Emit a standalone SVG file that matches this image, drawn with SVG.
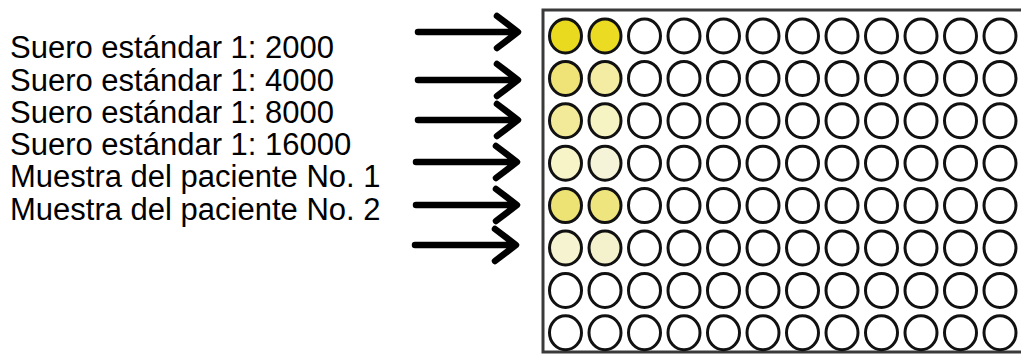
<svg xmlns="http://www.w3.org/2000/svg" width="1021" height="355" viewBox="0 0 1021 355">
<style>
.lbl{font-family:"Liberation Sans",Arial,sans-serif;font-size:31px;fill:#000}
.arr{fill:none;stroke:#000;stroke-width:6.5;stroke-linecap:round;stroke-linejoin:round}
.well{stroke:#111;stroke-width:3;fill:#fff}
.plate{fill:#fff;stroke:#3a3a3a;stroke-width:3}
</style>
<defs>
<ellipse id="w" rx="16" ry="17"/>
</defs>
<rect width="1021" height="355" fill="#fff"/>
<g id="labels">
<g id="label-1"><text class="lbl" x="10" y="58">Suero estándar 1: 2000</text></g>
<g id="label-2"><text class="lbl" x="10" y="90.5">Suero estándar 1: 4000</text></g>
<g id="label-3"><text class="lbl" x="10" y="123">Suero estándar 1: 8000</text></g>
<g id="label-4"><text class="lbl" x="10" y="155">Suero estándar 1: 16000</text></g>
<g id="label-5"><text class="lbl" x="10" y="187">Muestra del paciente No. 1</text></g>
<g id="label-6"><text class="lbl" x="10" y="219.5">Muestra del paciente No. 2</text></g>
</g>
<g id="plate">
<rect class="plate" x="543" y="10" width="490" height="342"/>
<g id="wells" class="well">
<g id="row-1"><use href="#w" x="565.5" y="36" fill="#e9d91f"/><use href="#w" x="605" y="36" fill="#ebdb22"/><use href="#w" x="644.5" y="36"/><use href="#w" x="684" y="36"/><use href="#w" x="723.5" y="36"/><use href="#w" x="763" y="36"/><use href="#w" x="802.5" y="36"/><use href="#w" x="842" y="36"/><use href="#w" x="881.5" y="36"/><use href="#w" x="921" y="36"/><use href="#w" x="960.5" y="36"/><use href="#w" x="1000" y="36"/></g>
<g id="row-2"><use href="#w" x="565.5" y="78.4" fill="#efe377"/><use href="#w" x="605" y="78.4" fill="#f3eca2"/><use href="#w" x="644.5" y="78.4"/><use href="#w" x="684" y="78.4"/><use href="#w" x="723.5" y="78.4"/><use href="#w" x="763" y="78.4"/><use href="#w" x="802.5" y="78.4"/><use href="#w" x="842" y="78.4"/><use href="#w" x="881.5" y="78.4"/><use href="#w" x="921" y="78.4"/><use href="#w" x="960.5" y="78.4"/><use href="#w" x="1000" y="78.4"/></g>
<g id="row-3"><use href="#w" x="565.5" y="120.8" fill="#f2ea98"/><use href="#w" x="605" y="120.8" fill="#f7f4c4"/><use href="#w" x="644.5" y="120.8"/><use href="#w" x="684" y="120.8"/><use href="#w" x="723.5" y="120.8"/><use href="#w" x="763" y="120.8"/><use href="#w" x="802.5" y="120.8"/><use href="#w" x="842" y="120.8"/><use href="#w" x="881.5" y="120.8"/><use href="#w" x="921" y="120.8"/><use href="#w" x="960.5" y="120.8"/><use href="#w" x="1000" y="120.8"/></g>
<g id="row-4"><use href="#w" x="565.5" y="163.2" fill="#f7f4c8"/><use href="#w" x="605" y="163.2" fill="#f5f4d8"/><use href="#w" x="644.5" y="163.2"/><use href="#w" x="684" y="163.2"/><use href="#w" x="723.5" y="163.2"/><use href="#w" x="763" y="163.2"/><use href="#w" x="802.5" y="163.2"/><use href="#w" x="842" y="163.2"/><use href="#w" x="881.5" y="163.2"/><use href="#w" x="921" y="163.2"/><use href="#w" x="960.5" y="163.2"/><use href="#w" x="1000" y="163.2"/></g>
<g id="row-5"><use href="#w" x="565.5" y="205.6" fill="#ede274"/><use href="#w" x="605" y="205.6" fill="#efe57e"/><use href="#w" x="644.5" y="205.6"/><use href="#w" x="684" y="205.6"/><use href="#w" x="723.5" y="205.6"/><use href="#w" x="763" y="205.6"/><use href="#w" x="802.5" y="205.6"/><use href="#w" x="842" y="205.6"/><use href="#w" x="881.5" y="205.6"/><use href="#w" x="921" y="205.6"/><use href="#w" x="960.5" y="205.6"/><use href="#w" x="1000" y="205.6"/></g>
<g id="row-6"><use href="#w" x="565.5" y="248" fill="#f5f3d0"/><use href="#w" x="605" y="248" fill="#f4f2cd"/><use href="#w" x="644.5" y="248"/><use href="#w" x="684" y="248"/><use href="#w" x="723.5" y="248"/><use href="#w" x="763" y="248"/><use href="#w" x="802.5" y="248"/><use href="#w" x="842" y="248"/><use href="#w" x="881.5" y="248"/><use href="#w" x="921" y="248"/><use href="#w" x="960.5" y="248"/><use href="#w" x="1000" y="248"/></g>
<g id="row-7"><use href="#w" x="565.5" y="290.4"/><use href="#w" x="605" y="290.4"/><use href="#w" x="644.5" y="290.4"/><use href="#w" x="684" y="290.4"/><use href="#w" x="723.5" y="290.4"/><use href="#w" x="763" y="290.4"/><use href="#w" x="802.5" y="290.4"/><use href="#w" x="842" y="290.4"/><use href="#w" x="881.5" y="290.4"/><use href="#w" x="921" y="290.4"/><use href="#w" x="960.5" y="290.4"/><use href="#w" x="1000" y="290.4"/></g>
<g id="row-8"><use href="#w" x="565.5" y="332.8"/><use href="#w" x="605" y="332.8"/><use href="#w" x="644.5" y="332.8"/><use href="#w" x="684" y="332.8"/><use href="#w" x="723.5" y="332.8"/><use href="#w" x="763" y="332.8"/><use href="#w" x="802.5" y="332.8"/><use href="#w" x="842" y="332.8"/><use href="#w" x="881.5" y="332.8"/><use href="#w" x="921" y="332.8"/><use href="#w" x="960.5" y="332.8"/><use href="#w" x="1000" y="332.8"/></g>
</g>
</g>
<g id="connectors" class="arr">
<path d="M418,32 H516 M497,16 L518,32 L497,48"/>
<path d="M418,80 H516 M497,64 L518,80 L497,96"/>
<path d="M418,120 H516 M497,104 L518,120 L497,136"/>
<path d="M416,162 H515 M496,146 L517,162 L496,178"/>
<path d="M416,205 H515 M496,189 L517,205 L496,221"/>
<path d="M415,245 H514 M495,229 L516,245 L495,261"/>
</g>
</svg>
